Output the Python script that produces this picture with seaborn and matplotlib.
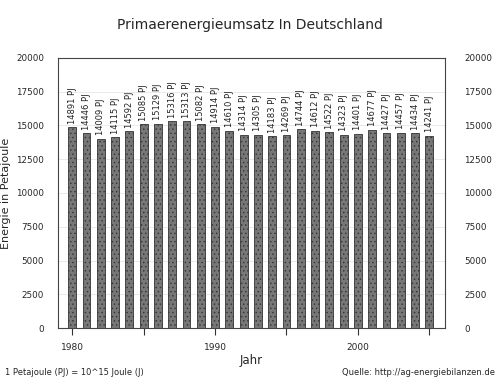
import numpy as np
import matplotlib
matplotlib.use('Agg')
import matplotlib.pyplot as plt
import seaborn as sns

# ─── Data ────────────────────────────────────────────────────────────────────
years = list(range(1980, 2006))
energie_pj = [14891, 14446, 14009, 14115, 14592, 15085, 15129, 15316, 15313,
              15082, 14914, 14610, 14314, 14305, 14183, 14269, 14744, 14612,
              14522, 14323, 14401, 14677, 14427, 14457, 14434, 14241]
y_ticks = [0, 2500, 5000, 7500, 10000, 12500, 15000, 17500, 20000]
x_major = [1980, 1990, 2000]
x_minor = [1985, 1995, 2005]

sns.set_style("white")
plt.rcParams['font.family'] = ['DejaVu Sans']
plt.rcParams['hatch.color'] = '#a0a0a0'
plt.rcParams['hatch.linewidth'] = 0.5

fig = plt.figure(figsize=(5, 3.86), dpi=100)
ax = fig.add_axes([0.116, 0.150, 0.774, 0.700])

sns.barplot(x=years, y=energie_pj, native_scale=True, width=0.55,
            color='#777777', edgecolor='#333333', linewidth=0.6,
            hatch='....', saturation=1, ax=ax)

for yr, v in zip(years, energie_pj):
    ax.text(yr, v + 250, f"{v} PJ", rotation=90, ha='center', va='bottom',
            fontsize=6, color='#222222')

ax.set_xlim(1979.0, 2006.1)
ax.set_ylim(0, 20000)
ax.set_yticks(y_ticks)
ax.set_yticklabels([str(t) for t in y_ticks], fontsize=6.3)
ax.set_xticks(x_major)
ax.set_xticklabels([str(t) for t in x_major], fontsize=6.5)
ax.set_xticks(x_minor, minor=True)
ax.tick_params(axis='x', which='both', direction='out', length=5, width=0.8,
               bottom=True, color='#333333', pad=6)
ax.tick_params(axis='y', length=0, pad=10)
ax.grid(axis='y', color='#e6e6e6', linewidth=0.6)
ax.set_axisbelow(True)
for s in ax.spines.values():
    s.set_color('#444444')
    s.set_linewidth(0.8)

ax.set_xlabel("Jahr", fontsize=8.5, labelpad=1)
ax.set_ylabel("Energie in Petajoule", fontsize=8)
ax.yaxis.set_label_coords(-0.122, 0.5)

ax2 = ax.twinx()
ax2.set_ylim(0, 20000)
ax2.set_yticks(y_ticks)
ax2.set_yticklabels([str(t) for t in y_ticks], fontsize=6.3)
ax2.tick_params(axis='y', length=0, pad=14)
for s in ax2.spines.values():
    s.set_visible(False)

fig.text(0.5, 0.935, "Primaerenergieumsatz In Deutschland", ha='center',
         va='center', fontsize=10)
fig.text(0.01, 0.035, "1 Petajoule (PJ) = 10^15 Joule (J)", ha='left',
         va='center', fontsize=6)
fig.text(0.99, 0.035, "Quelle: http://ag-energiebilanzen.de", ha='right',
         va='center', fontsize=6)

plt.savefig('out.png', dpi=100)
plt.close()
